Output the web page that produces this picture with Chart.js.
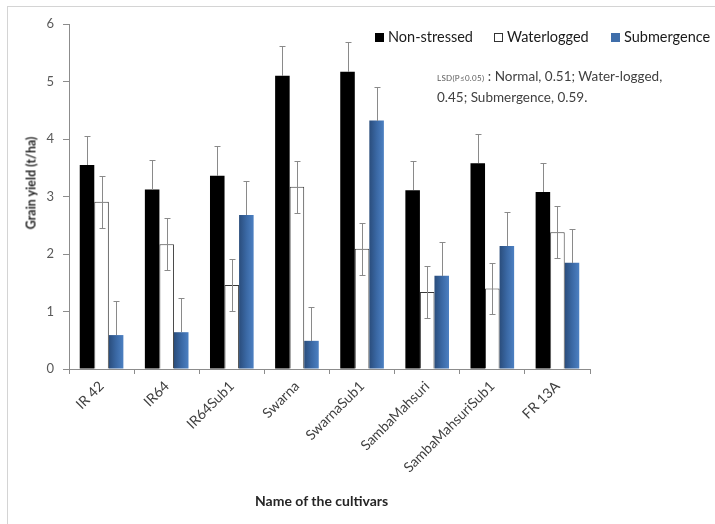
<!DOCTYPE html>
<html>
<head>
<meta charset="utf-8">
<script src="https://cdn.jsdelivr.net/npm/chart.js@4.4.1/dist/chart.umd.min.js"></script>
<style>
  html, body { margin: 0; padding: 0; background: #fff; }
  #wrap { position: relative; width: 715px; height: 524px; overflow: hidden; font-family: Lato, "Open Sans", sans-serif; }
  #frame { position: absolute; left: 7px; top: 6px; width: 800px; height: 600px; border-left: 1px solid #d4d4d4; border-top: 1px solid #d4d4d4; }
  canvas { position: absolute; left: 0; top: 0; }
  .txt { position: absolute; color: #1a1a1a; white-space: nowrap; }
  .lg { position: absolute; top: 28px; font-size: 14.5px; line-height: 18px; color: #1a1a1a; white-space: nowrap; }
  .sq { position: absolute; top: 33px; width: 9px; height: 9px; box-sizing: border-box; }
  #note { left: 437px; top: 67px; font-size: 13.5px; line-height: 19px; color: #404040; }
  #note small { font-size: 8px; letter-spacing: 0.3px; color: #5a5a5a; }
  #xtitle { left: 255px; top: 492px; font-size: 14px; font-weight: bold; color: #262626; }
  #ytitle { left: 31px; top: 183px; font-size: 12.5px; font-weight: bold; color: #262626; transform: translate(-50%, -50%) rotate(-90deg); }
</style>
</head>
<body>
<div id="wrap">
  <div id="frame"></div>
  <canvas id="c" width="715" height="524"></canvas>
  <div class="sq" style="left:375px;background:#000"></div>
  <div class="lg" style="left:388px">Non-stressed</div>
  <div class="sq" style="left:494px;background:#fff;border:1px solid #333"></div>
  <div class="lg" style="left:507px">Waterlogged</div>
  <div class="sq" style="left:611px;background:#3f6eaa"></div>
  <div class="lg" style="left:624px">Submergence</div>
  <div id="note" class="txt"><small>LSD(P≤0.05)</small> : Normal, 0.51; Water-logged,<br>0.45; Submergence, 0.59.</div>
  <div id="xtitle" class="txt">Name of the cultivars</div>
  <div id="ytitle" class="txt">Grain yield (t/ha)</div>
</div>
<script>
const categories = ["IR 42", "IR64", "IR64Sub1", "Swarna", "SwarnaSub1", "SambaMahsuri", "SambaMahsuriSub1", "FR 13A"];
const nonStressed = [3.55, 3.12, 3.36, 5.10, 5.17, 3.11, 3.58, 3.08];
const waterlogged = [2.91, 2.17, 1.46, 3.17, 2.09, 1.34, 1.40, 2.38];
const submergence = [0.59, 0.64, 2.68, 0.49, 4.32, 1.62, 2.14, 1.85];
const lsdNormal = 0.51;
const lsdWaterlogged = 0.45;
const lsdSubmergence = 0.59;
const yTicks = [0, 1, 2, 3, 4, 5, 6];

const CAT_PCT = 0.67;

function blueGradient(ctx) {
  const chart = ctx.chart;
  const xs = chart.scales && chart.scales.x;
  if (!xs || !chart.chartArea || ctx.dataIndex === undefined) return '#3f6eaa';
  const catW = xs.width / categories.length;
  const bw = catW * CAT_PCT / 3;
  const cx = xs.getPixelForValue(ctx.dataIndex) + bw;
  const g = chart.ctx.createLinearGradient(cx - bw / 2, 0, cx + bw / 2, 0);
  g.addColorStop(0, '#2a4d7c');
  g.addColorStop(0.5, '#3a68a4');
  g.addColorStop(1, '#4c80c2');
  return g;
}

const errorBars = {
  id: 'errorBars',
  afterDatasetsDraw(chart) {
    const c = chart.ctx;
    const ys = chart.scales.y;
    c.save();
    c.strokeStyle = '#8a8a8a';
    c.lineWidth = 1;
    chart.data.datasets.forEach((ds, di) => {
      const meta = chart.getDatasetMeta(di);
      meta.data.forEach((bar, i) => {
        const v = ds.data[i];
        const e = ds.errVal;
        const x = Math.round(bar.x) + 0.5;
        const yt = Math.round(ys.getPixelForValue(v + e)) + 0.5;
        const yb = ds.bothDir ? Math.round(ys.getPixelForValue(v - e)) + 0.5 : Math.round(ys.getPixelForValue(v));
        c.beginPath();
        c.moveTo(x, yt); c.lineTo(x, yb);
        c.moveTo(x - 3, yt); c.lineTo(x + 3, yt);
        if (ds.bothDir) { c.moveTo(x - 3, yb); c.lineTo(x + 3, yb); }
        c.stroke();
      });
    });
    c.restore();
  }
};

new Chart(document.getElementById('c'), {
  type: 'bar',
  data: {
    labels: categories,
    datasets: [
      { label: 'Non-stressed', data: nonStressed, backgroundColor: '#000000', borderWidth: 0, errVal: lsdNormal, bothDir: false },
      { label: 'Waterlogged', data: waterlogged, backgroundColor: '#ffffff', borderColor: '#3a3a3a', borderWidth: 1, errVal: lsdWaterlogged, bothDir: true },
      { label: 'Submergence', data: submergence, backgroundColor: blueGradient, borderWidth: 0, errVal: lsdSubmergence, bothDir: false }
    ]
  },
  options: {
    responsive: false,
    animation: false,
    events: [],
    datasets: { bar: { categoryPercentage: CAT_PCT, barPercentage: 1 } },
    layout: { padding: { left: 0, right: 125, top: 24, bottom: 0 } },
    plugins: { legend: { display: false }, tooltip: { enabled: false } },
    scales: {
      x: {
        grid: { display: true, drawOnChartArea: false, drawTicks: true, tickLength: 5, color: '#8c8c8c', offset: true },
        border: { display: true, color: '#8c8c8c' },
        ticks: { maxRotation: 45, minRotation: 45, color: '#404040', font: { family: 'Lato', size: 14 }, padding: 4 },
        afterFit(s) { s.height = 524 - 369; }
      },
      y: {
        min: 0, max: 6,
        afterBuildTicks(s) { s.ticks = yTicks.map(v => ({ value: v })); },
        grid: { display: true, drawOnChartArea: false, drawTicks: true, tickLength: 6, color: '#8c8c8c' },
        border: { display: true, color: '#8c8c8c' },
        ticks: { color: '#595959', font: { family: 'Lato', size: 13 }, padding: 9 },
        afterFit(s) { s.width = 69; }
      }
    }
  },
  plugins: [errorBars]
});
</script>
</body>
</html>
